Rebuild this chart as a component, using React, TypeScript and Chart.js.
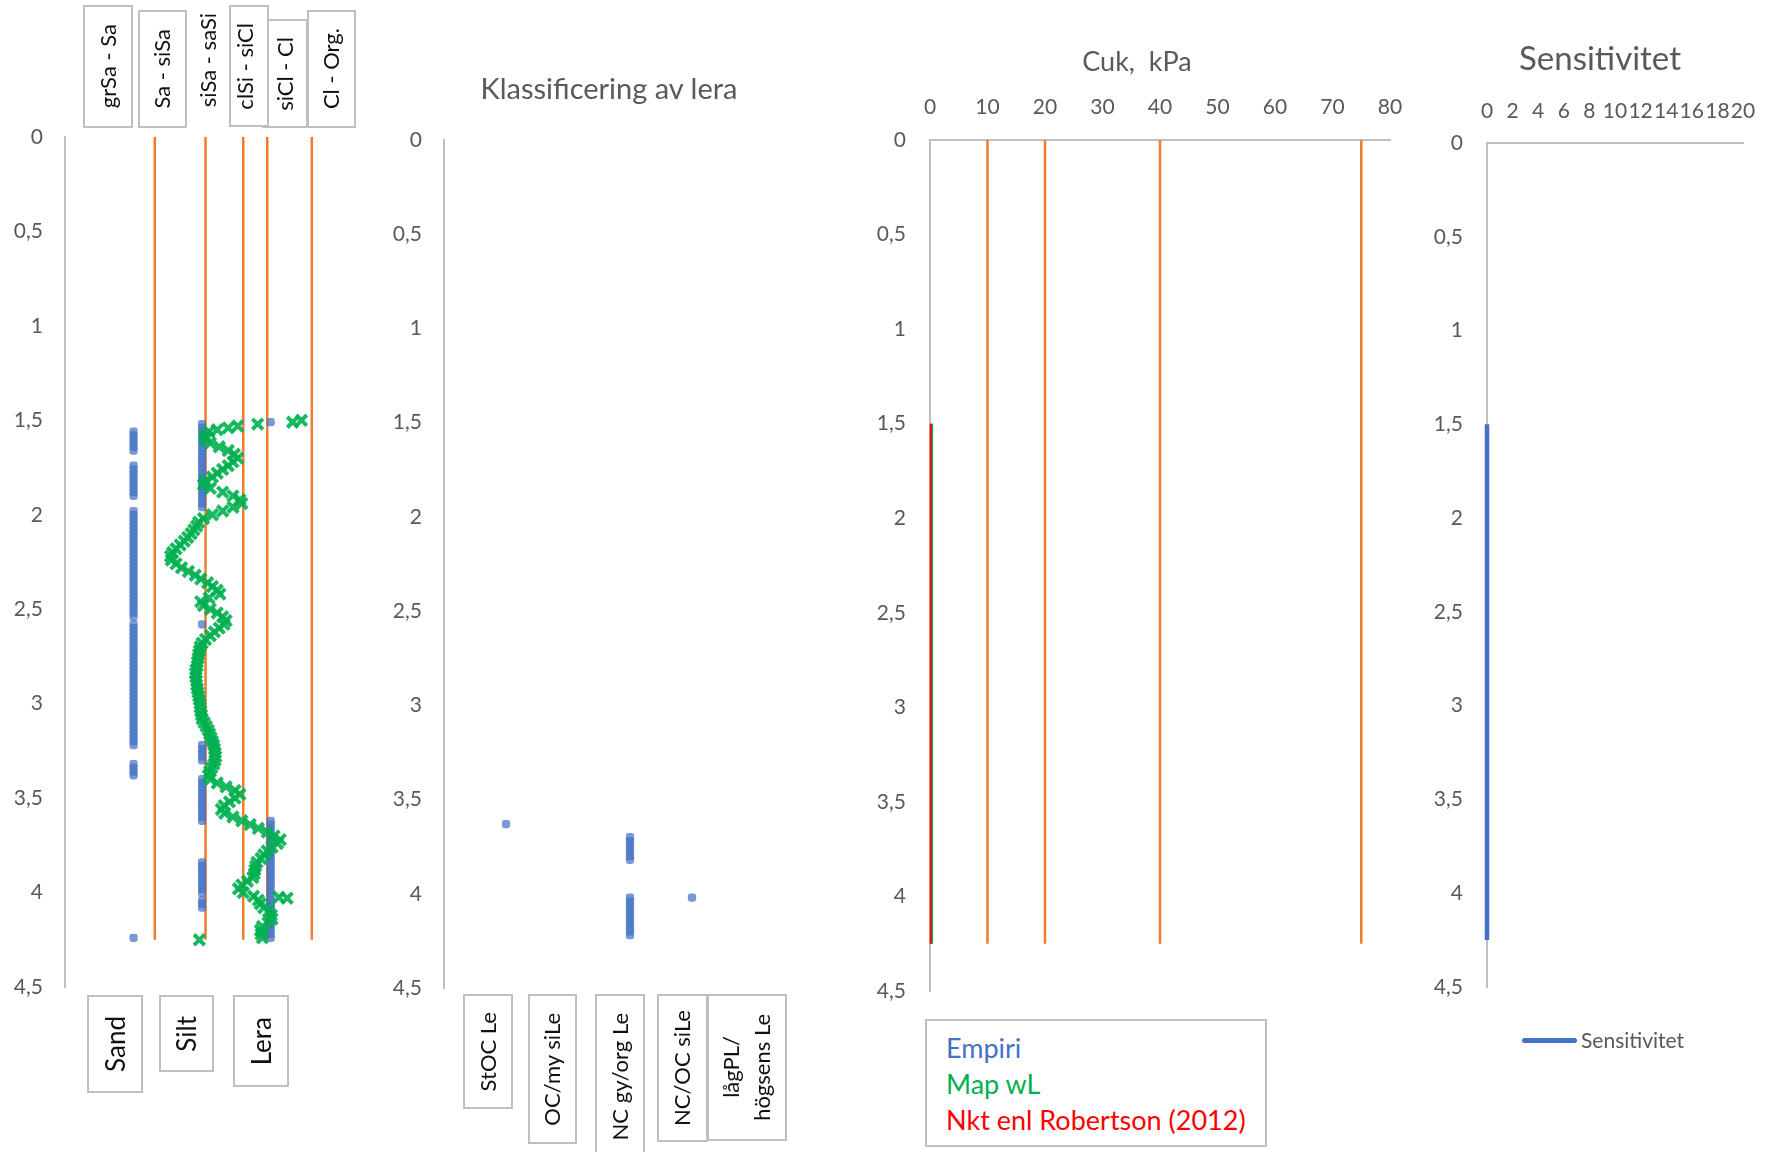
import React, { useEffect, useRef } from "react";
import { Chart, registerables } from "chart.js";

Chart.register(...registerables);

const FONT = "Lato, 'Open Sans', sans-serif";
const AXIS_GRAY = "#BFBFBF";
const TEXT_GRAY = "#595959";
const ORANGE = "#ED7D31";
const BLUE = "#4472C4";
const GREEN = "#00B050";
const RED = "#FF0000";

// ---------- shared depth axis ----------
const depthMin = 0;
const depthMax = 4.5;
const depthStep = 0.5;

// ---------- Panel 1: jordart (Ic) ----------
const icLimits = [1.31, 2.05, 2.6, 2.95, 3.6];
const limitDepths = [0, 4.25];
const topClassLabels = ["grSa - Sa", "Sa - siSa", "siSa - saSi", "clSi - siCl", "siCl - Cl", "Cl - Org."];
const soilLabels = ["Sand", "Silt", "Lera"];
const sandClass = 1;
const siltClass = 2;
const leraClass = 3;

const icDepth = [
  1.5, 1.51, 1.52, 1.53, 1.54, 1.55, 1.56, 1.58, 1.6, 1.62, 1.64, 1.66, 1.68, 1.7, 1.72, 1.74, 1.76, 1.78, 1.8, 1.82,
  1.84, 1.86, 1.88, 1.9, 1.92, 1.94, 1.96, 1.98, 2.0, 2.02, 2.04, 2.06, 2.08, 2.1, 2.12, 2.14, 2.16, 2.18, 2.2, 2.22,
  2.24, 2.26, 2.28, 2.3, 2.32, 2.34, 2.36, 2.38, 2.4, 2.42, 2.44, 2.46, 2.48, 2.5, 2.52, 2.54, 2.56, 2.58, 2.6, 2.62,
  2.64, 2.66, 2.68, 2.7, 2.72, 2.74, 2.76, 2.78, 2.8, 2.82, 2.84, 2.86, 2.88, 2.9, 2.92, 2.94, 2.96, 2.98, 3.0, 3.02,
  3.04, 3.06, 3.08, 3.1, 3.12, 3.14, 3.16, 3.18, 3.2, 3.22, 3.24, 3.26, 3.28, 3.3, 3.32, 3.34, 3.36, 3.38, 3.4, 3.42,
  3.44, 3.46, 3.48, 3.5, 3.52, 3.54, 3.56, 3.58, 3.6, 3.62, 3.64, 3.66, 3.68, 3.7, 3.72, 3.74, 3.76, 3.78, 3.8, 3.82,
  3.84, 3.86, 3.88, 3.9, 3.92, 3.94, 3.96, 3.98, 4.0, 4.02, 4.025, 4.03, 4.04, 4.06, 4.08, 4.1, 4.12, 4.14, 4.16, 4.18,
  4.2, 4.22, 4.24, 4.25,
];
const icValue = [
  3.45, 3.32, 2.81, 2.52, 2.38, 2.22, 2.1, 2.04, 2.05, 2.12, 2.25, 2.38, 2.47, 2.52, 2.45, 2.38, 2.3, 2.22, 2.15, 2.05,
  2.02, 2.12, 2.3, 2.45, 2.55, 2.58, 2.45, 2.3, 2.15, 2.02, 1.95, 1.92, 1.88, 1.84, 1.79, 1.74, 1.68, 1.62, 1.57, 1.54,
  1.55, 1.62, 1.7, 1.8, 1.9, 1.98, 2.08, 2.15, 2.22, 2.26, 2.1, 1.98, 2.02, 2.12, 2.22, 2.3, 2.35, 2.32, 2.25, 2.18,
  2.12, 2.05, 2.0, 1.97, 1.96, 1.95, 1.94, 1.93, 1.93, 1.91, 1.9, 1.91, 1.92, 1.92, 1.93, 1.94, 1.95, 1.96, 1.97, 1.97,
  1.98, 1.99, 2.0, 2.03, 2.06, 2.09, 2.11, 2.13, 2.15, 2.17, 2.18, 2.19, 2.2, 2.19, 2.17, 2.14, 2.11, 2.09, 2.12, 2.22,
  2.35, 2.48, 2.55, 2.48, 2.4, 2.32, 2.28, 2.33, 2.45, 2.58, 2.7, 2.82, 2.95, 3.05, 3.14, 3.1, 3.02, 2.95, 2.9, 2.86,
  2.8, 2.78, 2.77, 2.76, 2.74, 2.66, 2.58, 2.53, 2.6, 2.75, 3.12, 3.24, 2.82, 2.85, 2.9, 2.97, 3.01, 3.02, 2.96, 2.88,
  2.85, 2.86, 2.88, 1.96,
];
const sandDepth = [
  1.56, 1.58, 1.6, 1.62, 1.64, 1.66, 1.74, 1.76, 1.78, 1.8, 1.82, 1.84, 1.86, 1.88, 1.9, 1.98, 2.0, 2.02, 2.04, 2.06,
  2.08, 2.1, 2.12, 2.14, 2.16, 2.18, 2.2, 2.22, 2.24, 2.26, 2.28, 2.3, 2.32, 2.34, 2.36, 2.38, 2.4, 2.42, 2.44, 2.46,
  2.48, 2.5, 2.52, 2.54, 2.58, 2.6, 2.62, 2.64, 2.66, 2.68, 2.7, 2.72, 2.74, 2.76, 2.78, 2.8, 2.82, 2.84, 2.86, 2.88,
  2.9, 2.92, 2.94, 2.96, 2.98, 3.0, 3.02, 3.04, 3.06, 3.08, 3.1, 3.12, 3.14, 3.16, 3.18, 3.2, 3.22, 3.32, 3.34, 3.36,
  3.38, 4.24,
];
const siltDepth = [
  1.52, 1.54, 1.56, 1.58, 1.6, 1.62, 1.64, 1.66, 1.68, 1.7, 1.72, 1.74, 1.76, 1.78, 1.8, 1.82, 1.84, 1.86, 1.88, 1.9,
  1.92, 1.94, 1.96, 2.58, 3.22, 3.24, 3.26, 3.28, 3.3, 3.4, 3.42, 3.44, 3.46, 3.48, 3.5, 3.52, 3.54, 3.56, 3.58, 3.6,
  3.62, 3.84, 3.86, 3.88, 3.9, 3.92, 3.94, 3.96, 3.98, 4.0, 4.04, 4.06, 4.08,
];
const leraDepth = [
  1.51, 3.62, 3.64, 3.66, 3.68, 3.7, 3.72, 3.74, 3.76, 3.78, 3.8, 3.82, 3.84, 3.86, 3.88, 3.9, 3.92, 3.94, 3.96, 3.98,
  4.0, 4.02, 4.04, 4.06, 4.08, 4.1, 4.12, 4.14, 4.16, 4.18, 4.2, 4.22, 4.24,
];

// ---------- Panel 2: klassificering av lera ----------
const clayTitle = "Klassificering av lera";
const clayLabels = ["StOC Le", "OC/my siLe", "NC gy/org Le", "NC/OC siLe", "lågPL/\nhögsens Le"];
const stocClass = 1;
const ncGyOrgClass = 3;
const ncOcSiClass = 4;
const stocDepth = [3.63];
const ncGyOrgDepth = [3.7, 3.72, 3.74, 3.76, 3.78, 3.8, 3.82, 4.02, 4.04, 4.06, 4.08, 4.1, 4.12, 4.14, 4.16, 4.18, 4.2, 4.22];
const ncOcSiDepth = [4.02];

// ---------- Panel 3: Cuk ----------
const cukTitle = "Cuk,  kPa";
const cukMax = 80;
const cukStep = 10;
const cukLimits = [10, 20, 40, 75];
const cukDepth = [1.5, 2.0, 2.5, 3.0, 3.5, 4.0, 4.25];
const cukEmpiri = [0.25, 0.25, 0.25, 0.25, 0.25, 0.25, 0.25];
const cukMapWL = [0.35, 0.35, 0.35, 0.35, 0.35, 0.35, 0.35];
const cukNkt = [0.12, 0.12, 0.12, 0.12, 0.12, 0.12, 0.12];
const cukLegend = [
  { label: "Empiri", color: BLUE },
  { label: "Map wL", color: GREEN },
  { label: "Nkt enl Robertson (2012)", color: RED },
];

// ---------- Panel 4: Sensitivitet ----------
const stTitle = "Sensitivitet";
const stMax = 20;
const stStep = 2;
const stDepth = [1.5, 2.0, 2.5, 3.0, 3.5, 4.0, 4.25];
const stValue = [0, 0, 0, 0, 0, 0, 0];

// ---------- helpers ----------
const tickFont = { family: FONT, size: 21 };

function depthAxis(width: number, pad: number) {
  return {
    type: "linear",
    reverse: true,
    min: depthMin,
    max: depthMax,
    afterFit: (s: any) => {
      s.width = width;
    },
    ticks: {
      stepSize: depthStep,
      padding: pad,
      color: TEXT_GRAY,
      font: tickFont,
      callback: (v: any) => String(v).replace(".", ","),
    },
    grid: { display: false, drawTicks: false },
    border: { display: true, color: AXIS_GRAY, width: 2 },
  };
}

function topAxis(max: number, step: number, height: number, pad: number) {
  return {
    type: "linear",
    position: "top",
    min: 0,
    max,
    afterFit: (s: any) => {
      s.height = height;
    },
    ticks: {
      stepSize: step,
      padding: pad,
      autoSkip: false,
      maxRotation: 0,
      color: TEXT_GRAY,
      font: tickFont,
    },
    grid: { display: false, drawTicks: false },
    border: { display: true, color: AXIS_GRAY, width: 2 },
  };
}

function vLine(x: number, depths: number[], color: string, width: number) {
  return {
    data: depths.map((d) => ({ x, y: d })),
    showLine: true,
    borderColor: color,
    borderWidth: width,
    pointRadius: 0,
    clip: false,
  };
}

function profile(depths: number[], values: number[], color: string, width: number) {
  return {
    data: depths.map((d, i) => ({ x: values[i], y: d })),
    showLine: true,
    borderColor: color,
    borderWidth: width,
    pointRadius: 0,
    borderCapStyle: "butt",
    clip: false,
  };
}

function classDots(cls: number, depths: number[], color: string) {
  return {
    data: depths.map((d) => ({ x: cls, y: d })),
    showLine: false,
    pointStyle: "rectRounded",
    pointRadius: 4.8,
    backgroundColor: color,
    borderWidth: 0,
    clip: false,
  };
}

function baseOptions(scales: any, padding: any) {
  return {
    responsive: false,
    maintainAspectRatio: false,
    animation: false,
    layout: { padding },
    plugins: { legend: { display: false }, tooltip: { enabled: false }, title: { display: false } },
    scales,
  };
}

function ChartBox({ x, y, w, h, make }: any) {
  const ref = useRef<HTMLCanvasElement>(null);
  useEffect(() => {
    const chart = new Chart(ref.current as HTMLCanvasElement, make());
    return () => chart.destroy();
  }, []);
  return (
    <canvas
      ref={ref}
      width={w}
      height={h}
      style={{ position: "absolute", left: x, top: y, width: w, height: h, display: "block" }}
    />
  );
}

function VBox({ x, y, w, h, text, size, border = true, pr = 0, bg = "transparent" }: any) {
  return (
    <div
      style={{
        position: "absolute",
        left: x,
        top: y,
        width: w,
        height: h,
        boxSizing: "border-box",
        border: border ? `2px solid ${AXIS_GRAY}` : "none",
        background: bg,
        display: "flex",
        alignItems: "center",
        justifyContent: "center",
        paddingRight: pr,
      }}
    >
      <span
        style={{
          writingMode: "vertical-rl",
          transform: "rotate(180deg)",
          fontFamily: FONT,
          fontSize: size,
          color: "#111",
          whiteSpace: "pre",
          textAlign: "center",
          lineHeight: 1.4,
        }}
      >
        {text}
      </span>
    </div>
  );
}

function Title({ cx, cy, text, size }: any) {
  return (
    <div
      style={{
        position: "absolute",
        left: cx - 250,
        top: cy - size / 2,
        width: 500,
        height: size,
        lineHeight: `${size}px`,
        textAlign: "center",
        fontFamily: FONT,
        fontSize: size,
        color: TEXT_GRAY,
        whiteSpace: "pre",
      }}
    >
      {text}
    </div>
  );
}

// ---------- chart configs ----------
const blueDot = "rgba(68,114,196,0.72)";

const makeSoil = () => ({
  type: "scatter",
  data: {
    datasets: [
      {
        data: icDepth.map((d, i) => ({ x: icValue[i], y: d })),
        showLine: false,
        pointStyle: "crossRot",
        pointRadius: 7.5,
        borderColor: "rgba(0,176,80,0.9)",
        borderWidth: 4,
        clip: false,
      },
      classDots(sandClass, sandDepth, blueDot),
      classDots(siltClass, siltDepth, blueDot),
      classDots(leraClass, leraDepth, blueDot),
      ...icLimits.map((b) => vLine(b, limitDepths, ORANGE, 2.5)),
    ],
  },
  options: baseOptions(
    { x: { type: "linear", min: 0, max: 4.5, display: false }, y: depthAxis(65, 22) },
    { top: 137, right: 10, bottom: 40, left: 0 }
  ),
});

const makeClay = () => ({
  type: "scatter",
  data: {
    datasets: [
      classDots(stocClass, stocDepth, blueDot),
      classDots(ncGyOrgClass, ncGyOrgDepth, blueDot),
      classDots(ncOcSiClass, ncOcSiDepth, blueDot),
    ],
  },
  options: baseOptions(
    { x: { type: "linear", min: 0, max: 6, display: false }, y: depthAxis(64, 22) },
    { top: 140, right: 14, bottom: 40, left: 0 }
  ),
});

const makeCuk = () => ({
  type: "scatter",
  data: {
    datasets: [
      profile(cukDepth, cukNkt, RED, 2),
      profile(cukDepth, cukMapWL, GREEN, 2),
      profile(cukDepth, cukEmpiri, BLUE, 2),
      ...cukLimits.map((b) => vLine(b, limitDepths, ORANGE, 2.5)),
    ],
  },
  options: baseOptions(
    { x: topAxis(cukMax, cukStep, 140, 20), y: depthAxis(90, 24) },
    { top: 0, right: 40, bottom: 40, left: 0 }
  ),
});

const makeSt = () => ({
  type: "scatter",
  data: {
    datasets: [profile(stDepth, stValue, BLUE, 4.5)],
  },
  options: baseOptions(
    { x: topAxis(stMax, stStep, 143, 19), y: depthAxis(77, 24) },
    { top: 0, right: 40, bottom: 40, left: 0 }
  ),
});

export default function App() {
  return (
    <div
      style={{
        position: "absolute",
        left: 0,
        top: 0,
        width: 1765,
        height: 1152,
        overflow: "hidden",
        background: "#fff",
      }}
    >
      <ChartBox x={0} y={0} w={385} h={1027} make={makeSoil} />
      <ChartBox x={380} y={0} w={450} h={1028} make={makeClay} />
      <ChartBox x={840} y={0} w={590} h={1031} make={makeCuk} />
      <ChartBox x={1410} y={0} w={373} h={1027} make={makeSt} />

      {/* Panel 1 top class boxes */}
      <VBox x={83} y={5} w={50} h={123} text={topClassLabels[0]} size={22} />
      <VBox x={138} y={10} w={49} h={118} text={topClassLabels[1]} size={22} />
      <VBox x={188} y={0} w={40} h={120} text={topClassLabels[2]} size={22} border={false} />
      <VBox x={262} y={19} w={46} h={109} text={topClassLabels[4]} size={22} />
      <VBox x={229} y={5} w={40} h={122} text={topClassLabels[3]} size={22} pr={8} bg="#fff" />
      <VBox x={307} y={10} w={49} h={118} text={topClassLabels[5]} size={22} />

      {/* Panel 1 bottom soil boxes */}
      <VBox x={87} y={995} w={56} h={98} text={soilLabels[0]} size={26} />
      <VBox x={159} y={995} w={55} h={77} text={soilLabels[1]} size={26} />
      <VBox x={233} y={995} w={56} h={92} text={soilLabels[2]} size={26} />

      {/* Panel 2 */}
      <Title cx={609} cy={87} text={clayTitle} size={29} />
      <VBox x={463} y={994} w={50} h={115} text={clayLabels[0]} size={22} />
      <VBox x={528} y={994} w={49} h={150} text={clayLabels[1]} size={22} />
      <VBox x={595} y={994} w={50} h={165} text={clayLabels[2]} size={22} />
      <VBox x={657} y={994} w={51} h={148} text={clayLabels[3]} size={22} />
      <VBox x={707} y={994} w={80} h={147} text={clayLabels[4]} size={22} />

      {/* Panel 3 */}
      <Title cx={1137} cy={60} text={cukTitle} size={27} />
      <div
        style={{
          position: "absolute",
          left: 925,
          top: 1019,
          width: 342,
          height: 128,
          boxSizing: "border-box",
          border: `2px solid ${AXIS_GRAY}`,
          background: "#fff",
        }}
      >
        {cukLegend.map((e, i) => (
          <div
            key={e.label}
            style={{
              position: "absolute",
              left: 19,
              top: 12 + i * 36,
              height: 30,
              lineHeight: "30px",
              fontFamily: FONT,
              fontSize: 27,
              color: e.color,
              whiteSpace: "pre",
            }}
          >
            {e.label}
          </div>
        ))}
      </div>

      {/* Panel 4 */}
      <Title cx={1600} cy={57} text={stTitle} size={33} />
      <div
        style={{
          position: "absolute",
          left: 1522,
          top: 1038,
          width: 55,
          height: 5,
          borderRadius: 3,
          background: BLUE,
        }}
      />
      <div
        style={{
          position: "absolute",
          left: 1581,
          top: 1028,
          height: 24,
          lineHeight: "24px",
          fontFamily: FONT,
          fontSize: 21,
          color: TEXT_GRAY,
          whiteSpace: "pre",
        }}
      >
        {stTitle}
      </div>
    </div>
  );
}
